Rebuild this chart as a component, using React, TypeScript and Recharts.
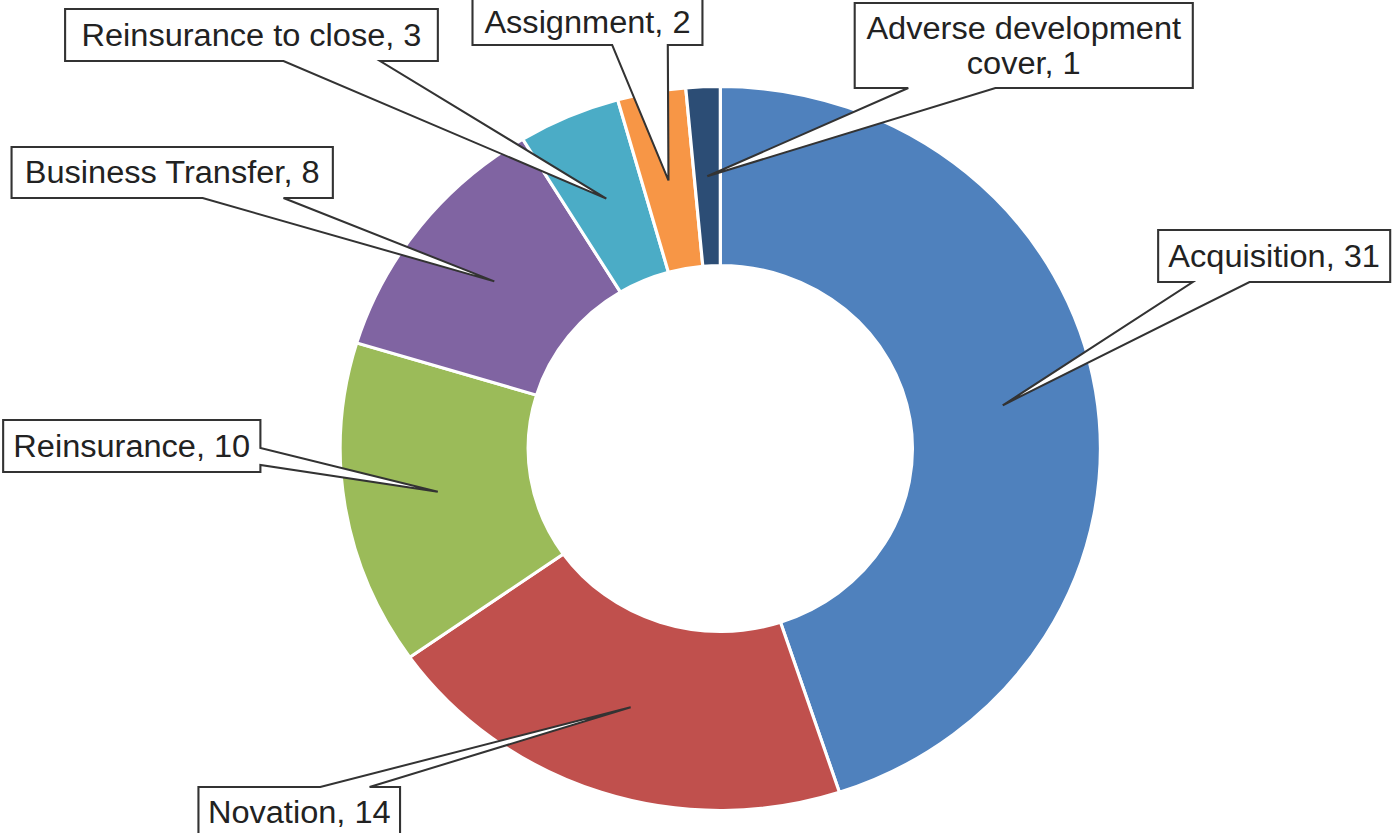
import { Cell, Pie, PieChart } from "recharts";

const categories = [
  "Acquisition",
  "Novation",
  "Reinsurance",
  "Business Transfer",
  "Reinsurance to close",
  "Assignment",
  "Adverse development cover",
];
const counts = [31, 14, 10, 8, 3, 2, 1];
const colors = ["#4F81BD", "#C0504D", "#9BBB59", "#8064A2", "#4BACC6", "#F79646", "#2C4D75"];

// callout box layout, one per slice (chart units, before the x stretch)
const callouts = [
  { x: 1103, y: 230, w: 221, h: 52, edge: "bottom", a: 1136, b: 1190, wrap: 0 },
  { x: 189, y: 787, w: 192, h: 50, edge: "top", a: 305, b: 352, wrap: 0 },
  { x: 3, y: 420, w: 245, h: 52, edge: "right", a: 448, b: 465, wrap: 0 },
  { x: 11, y: 147, w: 306, h: 51, edge: "bottom", a: 193, b: 270, wrap: 0 },
  { x: 62, y: 9, w: 355, h: 52, edge: "bottom", a: 270, b: 362, wrap: 0 },
  { x: 450, y: -1, w: 219, h: 46, edge: "bottom", a: 583, b: 636, wrap: 0 },
  { x: 814, y: 3, w: 322, h: 85, edge: "bottom", a: 865, b: 948, wrap: 2 },
];

const data = categories.map((name, i) => ({ name, value: counts[i] }));

const W = 1327;
const H = 833;
const SX = 1.05;
const RAD = Math.PI / 180;

function Callout(props: any) {
  const { cx, cy, midAngle, innerRadius, outerRadius, index, name, value } = props;
  const c = callouts[index];
  const r = (innerRadius + outerRadius) / 2;
  const tx = cx + r * Math.cos(-midAngle * RAD);
  const ty = cy + r * Math.sin(-midAngle * RAD);
  const L = c.x;
  const T = c.y;
  const R = c.x + c.w;
  const B = c.y + c.h;

  let d = "";
  if (c.edge === "bottom") {
    d = `M${L},${T}L${R},${T}L${R},${B}L${c.b},${B}L${tx},${ty}L${c.a},${B}L${L},${B}Z`;
  } else if (c.edge === "top") {
    d = `M${L},${T}L${c.a},${T}L${tx},${ty}L${c.b},${T}L${R},${T}L${R},${B}L${L},${B}Z`;
  } else {
    d = `M${L},${T}L${R},${T}L${R},${c.a}L${tx},${ty}L${R},${c.b}L${R},${B}L${L},${B}Z`;
  }

  const full = `${name}, ${value}`;
  let lines = [full];
  if (c.wrap) {
    const words = full.split(" ");
    lines = [words.slice(0, c.wrap).join(" "), words.slice(c.wrap).join(" ")];
  }
  const lh = 35;
  const mid = T + c.h / 2;

  return (
    <g>
      <path d={d} fill="#fff" stroke="#333" strokeWidth={2} strokeLinejoin="miter" />
      {lines.map((ln, k) => (
        <text
          key={k}
          x={L + c.w / 2}
          y={mid + (k - (lines.length - 1) / 2) * lh}
          textAnchor="middle"
          dominantBaseline="central"
          fontSize={31}
          fontFamily="'Liberation Sans', Arial, sans-serif"
          fill="#222"
        >
          {ln}
        </text>
      ))}
    </g>
  );
}

export default function App() {
  return (
    <div
      style={{
        position: "absolute",
        left: 0,
        top: 0,
        width: W,
        height: H,
        background: "#fff",
        transform: `scaleX(${SX})`,
        transformOrigin: "0 0",
      }}
    >
      <PieChart width={W} height={H} margin={{ top: 0, right: 0, bottom: 0, left: 0 }}>
        <Pie
          data={data}
          dataKey="value"
          nameKey="name"
          cx={686}
          cy={448.5}
          innerRadius={183}
          outerRadius={362}
          startAngle={90}
          endAngle={-270}
          stroke="#fff"
          strokeWidth={3}
          label={Callout}
          labelLine={false}
          isAnimationActive={false}
        >
          {data.map((d, i) => (
            <Cell key={d.name} fill={colors[i]} />
          ))}
        </Pie>
      </PieChart>
    </div>
  );
}
